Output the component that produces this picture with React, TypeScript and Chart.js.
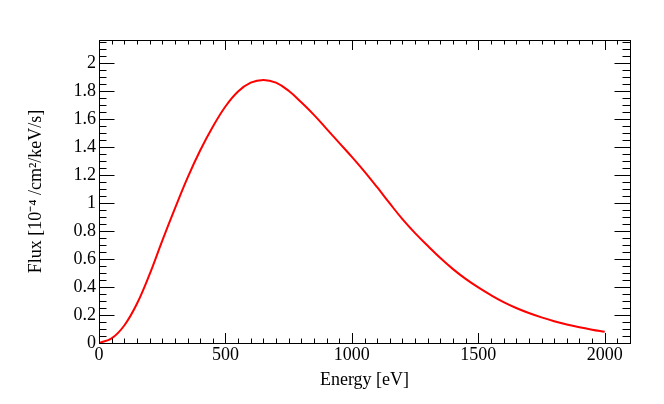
import React, { useEffect, useRef } from 'react';
import { Chart, registerables } from 'chart.js';

Chart.register(...registerables);

// energy grid [eV] and flux [1e-4 /cm2/keV/s]
const energy = [
  0, 50, 100, 150, 200, 250, 300, 350, 400, 450, 500, 550, 600, 650, 700, 750, 800, 850, 900, 950, 1000,
  1050, 1100, 1150, 1200, 1250, 1300, 1350, 1400, 1450, 1500, 1550, 1600, 1650, 1700, 1750, 1800, 1850, 1900, 1950, 2000,
];
const flux = [
  0, 0.033, 0.125, 0.28, 0.49, 0.73, 0.96, 1.18, 1.375, 1.545, 1.69, 1.797, 1.86, 1.88, 1.86, 1.802, 1.72, 1.63, 1.53, 1.43, 1.33,
  1.225, 1.113, 0.997, 0.885, 0.785, 0.695, 0.607, 0.528, 0.458, 0.397, 0.342, 0.292, 0.25, 0.214, 0.183, 0.156, 0.132, 0.112, 0.095, 0.08,
];

// axis ranges and labelled ticks
const xMin = 0;
const xMax = 2100;
const yMin = 0;
const yMax = 2.165;
const xTicks = [0, 500, 1000, 1500, 2000];
const yTicks = [0, 0.2, 0.4, 0.6, 0.8, 1, 1.2, 1.4, 1.6, 1.8, 2];

const FONT = 'Liberation Serif, Times New Roman, serif';

// ROOT style frame with inward ticks on all four sides
const frameTicks = {
  id: 'frameTicks',
  afterDraw(chart: any) {
    const { ctx, chartArea: a, scales } = chart;
    const xs = scales.x;
    const ys = scales.y;
    ctx.save();
    ctx.strokeStyle = '#000';
    ctx.lineWidth = 1;
    ctx.beginPath();
    for (let i = 0; i * 50 <= xMax + 1e-6; i++) {
      const px = Math.round(xs.getPixelForValue(i * 50)) + 0.5;
      const len = i % 10 === 0 ? 10 : 4.5;
      ctx.moveTo(px, a.bottom);
      ctx.lineTo(px, a.bottom - len);
      ctx.moveTo(px, a.top);
      ctx.lineTo(px, a.top + len);
    }
    for (let i = 0; i * 0.05 <= yMax + 1e-6; i++) {
      const py = Math.round(ys.getPixelForValue(i * 0.05)) + 0.5;
      const len = i % 4 === 0 ? 15.5 : 7.5;
      ctx.moveTo(a.left, py);
      ctx.lineTo(a.left + len, py);
      ctx.moveTo(a.right, py);
      ctx.lineTo(a.right - len, py);
    }
    ctx.stroke();
    ctx.strokeRect(Math.round(a.left) + 0.5, Math.round(a.top) + 0.5, Math.round(a.right - a.left), Math.round(a.bottom - a.top));
    ctx.restore();
  },
};

const App: React.FC = () => {
  const chartRef = useRef<HTMLCanvasElement | null>(null);

  useEffect(() => {
    if (!chartRef.current) return;
    const ctx = chartRef.current.getContext('2d');
    if (!ctx) return;
    const chart = new Chart(ctx, {
      type: 'line',
      data: {
        datasets: [{
          data: energy.map((e, i) => ({ x: e, y: flux[i] })),
          borderColor: '#ff0000',
          borderWidth: 2,
          pointRadius: 0,
          fill: false,
          tension: 0.4,
        }],
      },
      options: {
        animation: false,
        responsive: true,
        maintainAspectRatio: false,
        layout: { padding: { top: 40, right: 34, left: 0, bottom: 0 } },
        plugins: { legend: { display: false }, tooltip: { enabled: false } },
        scales: {
          x: {
            type: 'linear',
            min: xMin,
            max: xMax,
            grid: { display: false, drawTicks: false },
            border: { display: false },
            afterFit: (s: any) => { s.height = 61; },
            afterBuildTicks: (s: any) => { s.ticks = xTicks.map((v) => ({ value: v })); },
            ticks: {
              autoSkip: false,
              maxRotation: 0,
              padding: 1,
              color: '#000',
              font: { family: FONT, size: 18 },
              callback: (v: any) => String(v),
            },
            title: {
              display: true,
              text: 'Energy [eV]',
              color: '#000',
              font: { family: FONT, size: 18 },
              padding: { top: 0, bottom: 13 },
            },
          },
          y: {
            min: yMin,
            max: yMax,
            grid: { display: false, drawTicks: false },
            border: { display: false },
            afterFit: (s: any) => { s.width = 99; },
            afterBuildTicks: (s: any) => { s.ticks = yTicks.map((v) => ({ value: v })); },
            ticks: {
              autoSkip: false,
              padding: 3,
              color: '#000',
              font: { family: FONT, size: 18 },
              callback: (v: any) => String(Number(Number(v).toFixed(1))),
            },
            title: {
              display: true,
              text: 'Flux [10⁻⁴ /cm²/keV/s]',
              color: '#000',
              font: { family: FONT, size: 18 },
              padding: { top: 25, bottom: 0 },
            },
          },
        },
      },
      plugins: [frameTicks],
    });
    return () => {
      chart.destroy();
    };
  }, []);

  return (
    <div style={{ position: 'absolute', left: 0, top: 0, width: 664, height: 404, background: '#fff' }}>
      <canvas ref={chartRef}></canvas>
    </div>
  );
};

export default App;
